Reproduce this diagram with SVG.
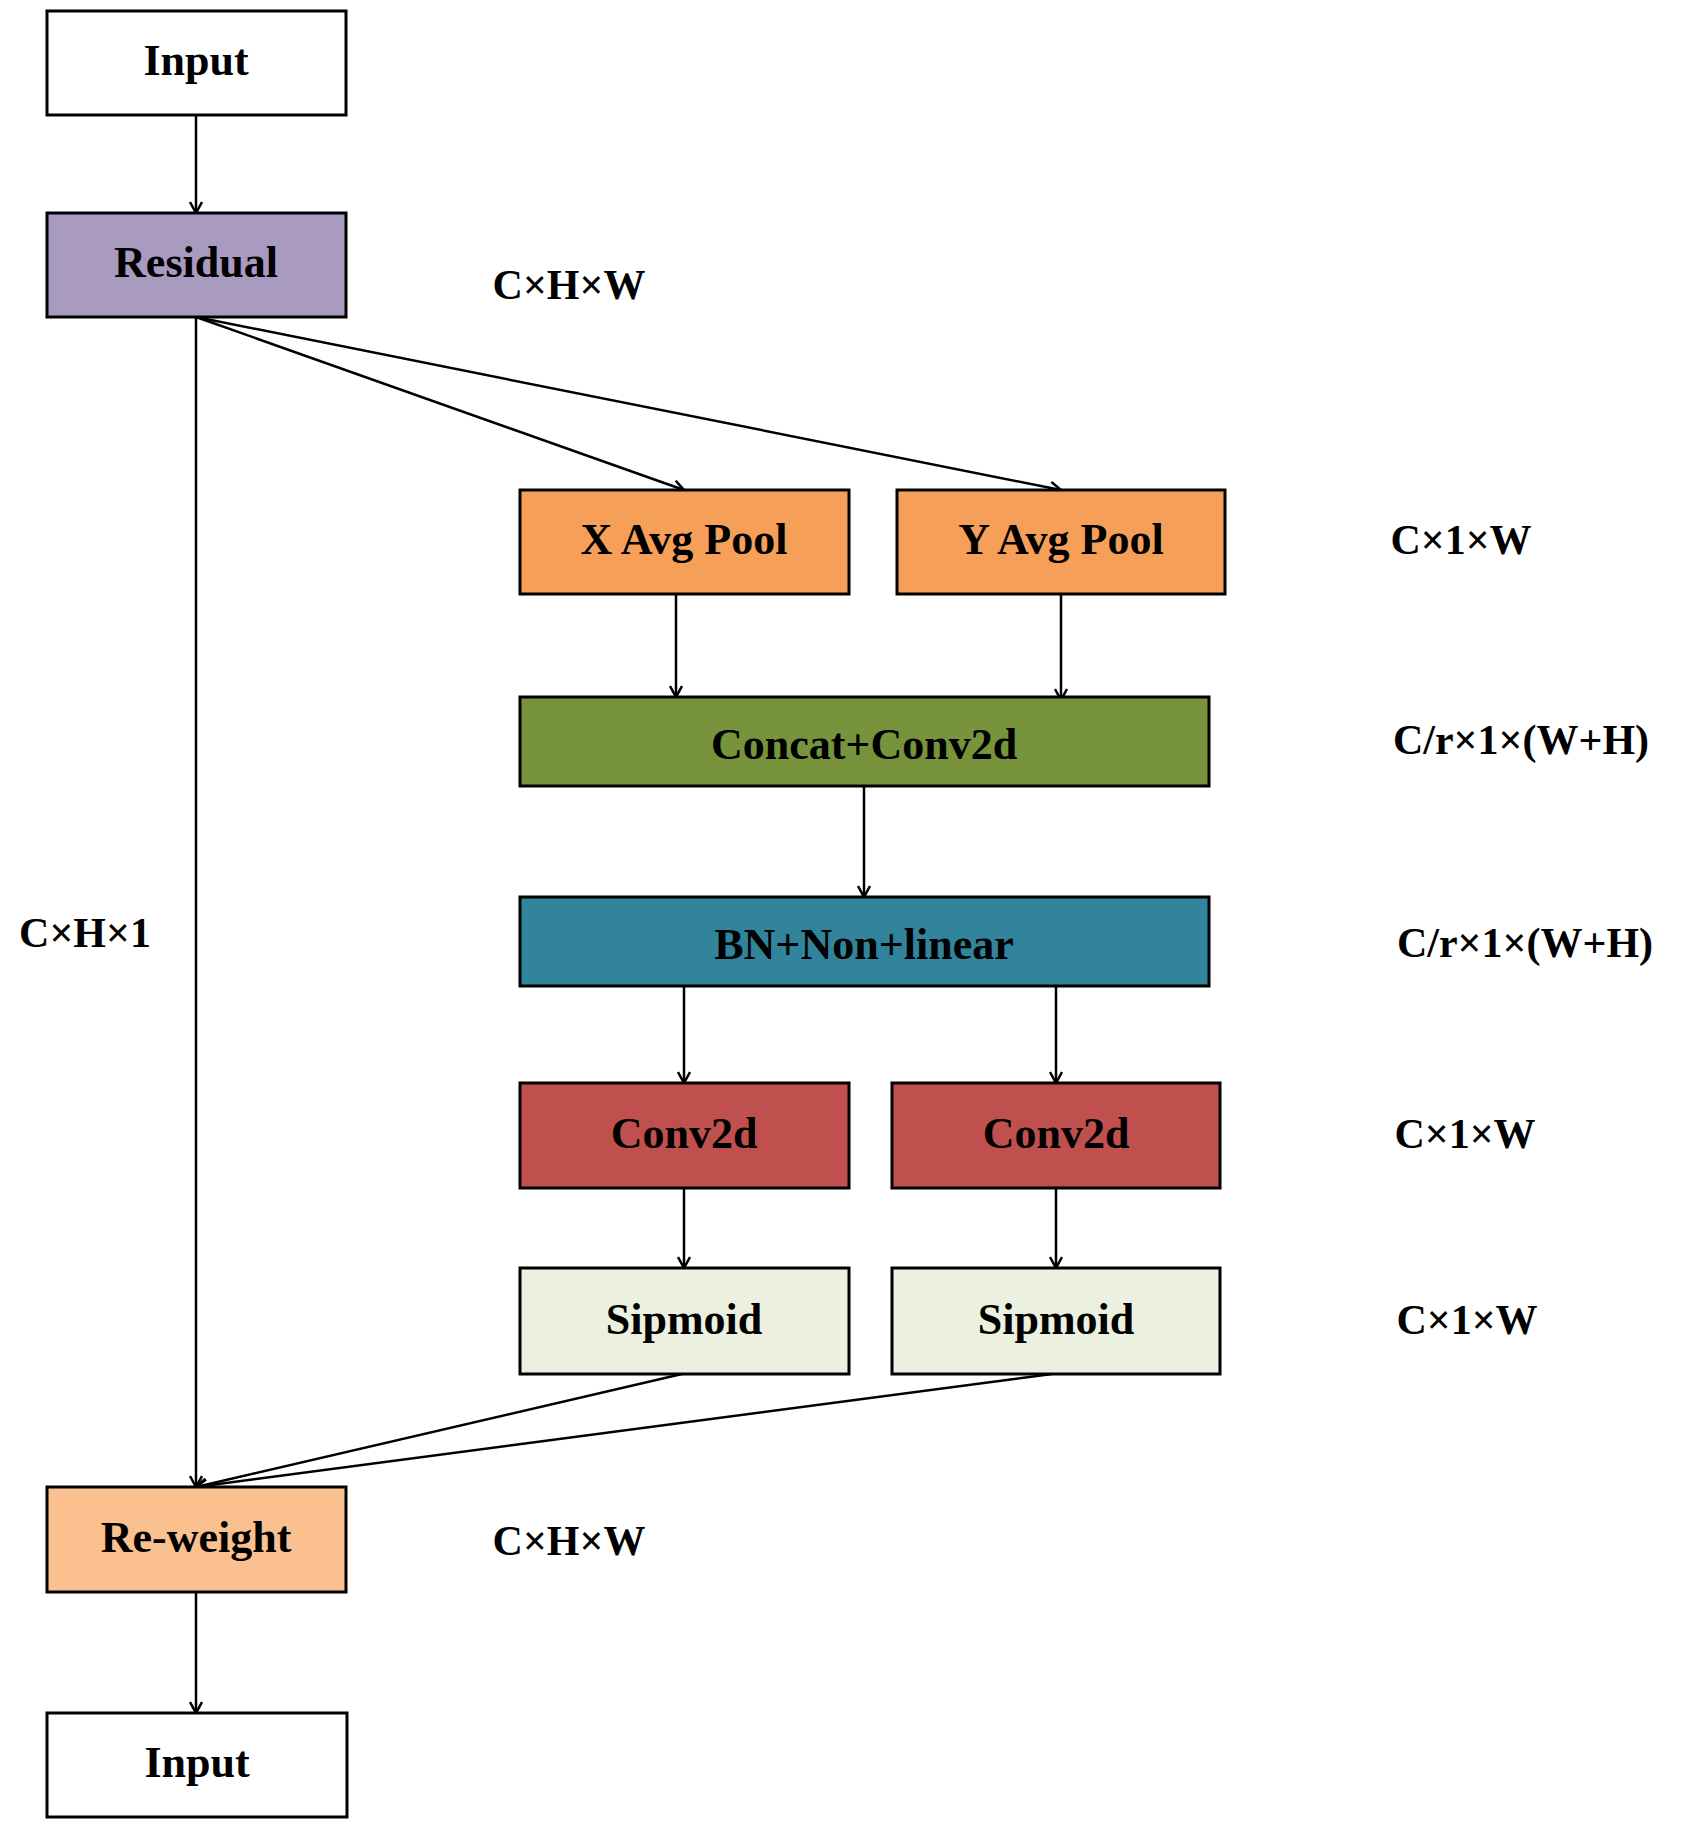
<svg xmlns="http://www.w3.org/2000/svg" width="1684" height="1843" viewBox="0 0 1684 1843">
<style>
.b{stroke:#000;stroke-width:3}
.t{font-family:"Liberation Serif",serif;font-weight:bold;font-size:44px;text-anchor:middle;dominant-baseline:central}
.l{font-family:"Liberation Serif",serif;font-weight:bold;font-size:42px;text-anchor:middle;dominant-baseline:central}
.c{stroke:#000;stroke-width:2.5;fill:none;marker-end:url(#a)}
</style>
<defs><marker id="a" markerWidth="14" markerHeight="14" refX="12" refY="7" orient="auto" markerUnits="userSpaceOnUse"><path d="M1,1 L12,7 L1,13" fill="none" stroke="#000" stroke-width="2.5"/></marker></defs>
<rect width="1684" height="1843" fill="#fff"/>
<g id="connectors">
<line class="c" x1="196" y1="115" x2="196" y2="213"/>
<line class="c" x1="196" y1="317" x2="684" y2="490"/>
<line class="c" x1="196" y1="317" x2="1061" y2="490"/>
<line class="c" x1="196" y1="317" x2="196" y2="1487"/>
<line class="c" x1="676" y1="594" x2="676" y2="697"/>
<line class="c" x1="1061" y1="594" x2="1061" y2="700"/>
<line class="c" x1="864" y1="786" x2="864" y2="897"/>
<line class="c" x1="684" y1="986" x2="684" y2="1083"/>
<line class="c" x1="1056" y1="986" x2="1056" y2="1083"/>
<line class="c" x1="684" y1="1188" x2="684" y2="1268"/>
<line class="c" x1="1056" y1="1188" x2="1056" y2="1268"/>
<line class="c" x1="682" y1="1374" x2="196" y2="1487"/>
<line class="c" x1="1052" y1="1374" x2="196" y2="1487"/>
<line class="c" x1="196" y1="1592" x2="196" y2="1713"/>
</g>
<g id="input1"><rect class="b" x="47" y="11" width="299" height="104" fill="#fff"/><text class="t" x="196" y="60">Input</text></g>
<g id="residual"><rect class="b" x="47" y="213" width="299" height="104" fill="#A99AC0"/><text class="t" x="196" y="262">Residual</text></g>
<g id="xpool"><rect class="b" x="520" y="490" width="329" height="104" fill="#F59F58"/><text class="t" x="684" y="539">X Avg Pool</text></g>
<g id="ypool"><rect class="b" x="897" y="490" width="328" height="104" fill="#F59F58"/><text class="t" x="1061" y="539">Y Avg Pool</text></g>
<g id="concat"><rect class="b" x="520" y="697" width="689" height="89" fill="#77933C"/><text class="t" x="864" y="744">Concat+Conv2d</text></g>
<g id="bn"><rect class="b" x="520" y="897" width="689" height="89" fill="#31849B"/><text class="t" x="864" y="944">BN+Non+linear</text></g>
<g id="conv1"><rect class="b" x="520" y="1083" width="329" height="105" fill="#C0504D"/><text class="t" x="684" y="1133">Conv2d</text></g>
<g id="conv2"><rect class="b" x="892" y="1083" width="328" height="105" fill="#C0504D"/><text class="t" x="1056" y="1133">Conv2d</text></g>
<g id="sig1"><rect class="b" x="520" y="1268" width="329" height="106" fill="#EBF1DE"/><text class="t" x="684" y="1319">Sipmoid</text></g>
<g id="sig2"><rect class="b" x="892" y="1268" width="328" height="106" fill="#EBF1DE"/><text class="t" x="1056" y="1319">Sipmoid</text></g>
<g id="reweight"><rect class="b" x="47" y="1487" width="299" height="105" fill="#FAC090"/><text class="t" x="196" y="1537">Re-weight</text></g>
<g id="input2"><rect class="b" x="47" y="1713" width="300" height="104" fill="#fff"/><text class="t" x="197" y="1762">Input</text></g>
<g id="labels">
<text class="l" x="569" y="285">C×H×W</text>
<text class="l" x="1461" y="540">C×1×W</text>
<text class="l" x="1521" y="740">C/r×1×(W+H)</text>
<text class="l" x="1525" y="943">C/r×1×(W+H)</text>
<text class="l" x="1465" y="1134">C×1×W</text>
<text class="l" x="1467" y="1320">C×1×W</text>
<text class="l" x="85" y="933">C×H×1</text>
<text class="l" x="569" y="1541">C×H×W</text>
</g>
</svg>
